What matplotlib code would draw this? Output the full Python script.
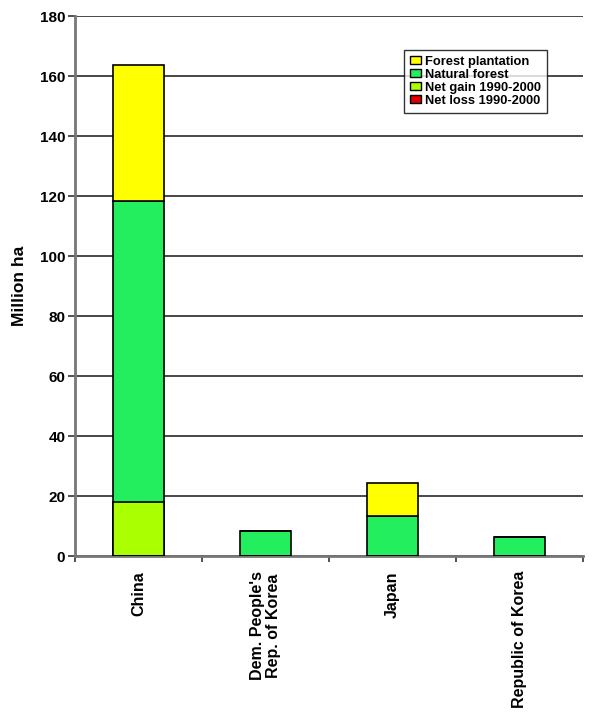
import matplotlib
matplotlib.use("Agg")
import matplotlib.pyplot as plt
import numpy as np
from matplotlib.patches import Patch

plt.rcParams['font.family'] = ['Liberation Sans', 'DejaVu Sans']

categories = ["China", "Dem. People's\nRep. of Korea", "Japan", "Republic of Korea"]
natural_forest = [118.4, 8.2, 13.3, 6.3]
forest_plantation = [45.1, 0.0, 10.9, 0.0]
net_gain = [18.0, 0.0, 0.0, 0.0]
net_loss = [0.0, 0.0, 0.0, 0.0]
yticks = [0, 20, 40, 60, 80, 100, 120, 140, 160, 180]

c_plant = '#FFFF00'
c_nat = '#22EE5E'
c_gain = '#AAFF00'
c_loss = '#DD0000'

fig = plt.figure(figsize=(5.99, 7.14), dpi=100)
ax = fig.add_axes([75/599, 1-556/714, 508/599, 540/714])

x = np.arange(len(categories))
w = 0.4
ax.bar(x, natural_forest, w, color=c_nat, edgecolor='black', linewidth=1.2, zorder=3)
ax.bar(x, forest_plantation, w, bottom=natural_forest, color=c_plant, edgecolor='black', linewidth=1.2, zorder=3)
ax.bar(x, net_gain, w, color=c_gain, edgecolor='black', linewidth=1.2, zorder=4)
ax.bar(x, net_loss, w, color=c_loss, edgecolor='black', linewidth=1.2, zorder=4)

ax.set_xlim(-0.5, len(categories) - 0.5)
ax.set_ylim(0, 180)
ax.set_yticks(yticks)
ax.set_yticklabels([str(v) for v in yticks], fontsize=11, fontweight='bold')
ax.yaxis.grid(True, color='#3a3a3a', linewidth=1.3, zorder=0)
ax.set_axisbelow(True)

ax.set_xticks(np.arange(len(categories) + 1) - 0.5)
ax.set_xticklabels([])
ax.tick_params(axis='x', length=4, width=1.2, color='#333333', direction='out')
ax.tick_params(axis='y', length=5, width=1.2, color='#333333', direction='out', pad=2)
for i, c in enumerate(categories):
    ax.text(i, -5, c, rotation=90, ha='center', va='top', fontsize=11.5,
            fontweight='bold', multialignment='center', linespacing=1.05)

for s in ['top', 'right']:
    ax.spines[s].set_visible(False)
ax.spines['left'].set_color('#777777')
ax.spines['left'].set_linewidth(2)
ax.spines['bottom'].set_color('#777777')
ax.spines['bottom'].set_linewidth(2)

ax.set_ylabel('Million ha', fontsize=12.5, fontweight='bold', labelpad=9)

handles = [Patch(facecolor=c_plant, edgecolor='black', label='Forest plantation'),
           Patch(facecolor=c_nat, edgecolor='black', label='Natural forest'),
           Patch(facecolor=c_gain, edgecolor='black', label='Net gain 1990-2000'),
           Patch(facecolor=c_loss, edgecolor='black', label='Net loss 1990-2000')]
leg = ax.legend(handles=handles, loc='upper left', bbox_to_anchor=((404-75)/508, 1-(50-16)/540),
                prop={'weight': 'bold', 'size': 9.3}, frameon=True, fancybox=False,
                edgecolor='black', handlelength=0.9, handleheight=0.6, handletextpad=0.3,
                labelspacing=0.08, borderpad=0.45, borderaxespad=0)
leg.get_frame().set_linewidth(1.0)
leg.set_zorder(10)

fig.savefig('out.png', dpi=100, facecolor='white')
